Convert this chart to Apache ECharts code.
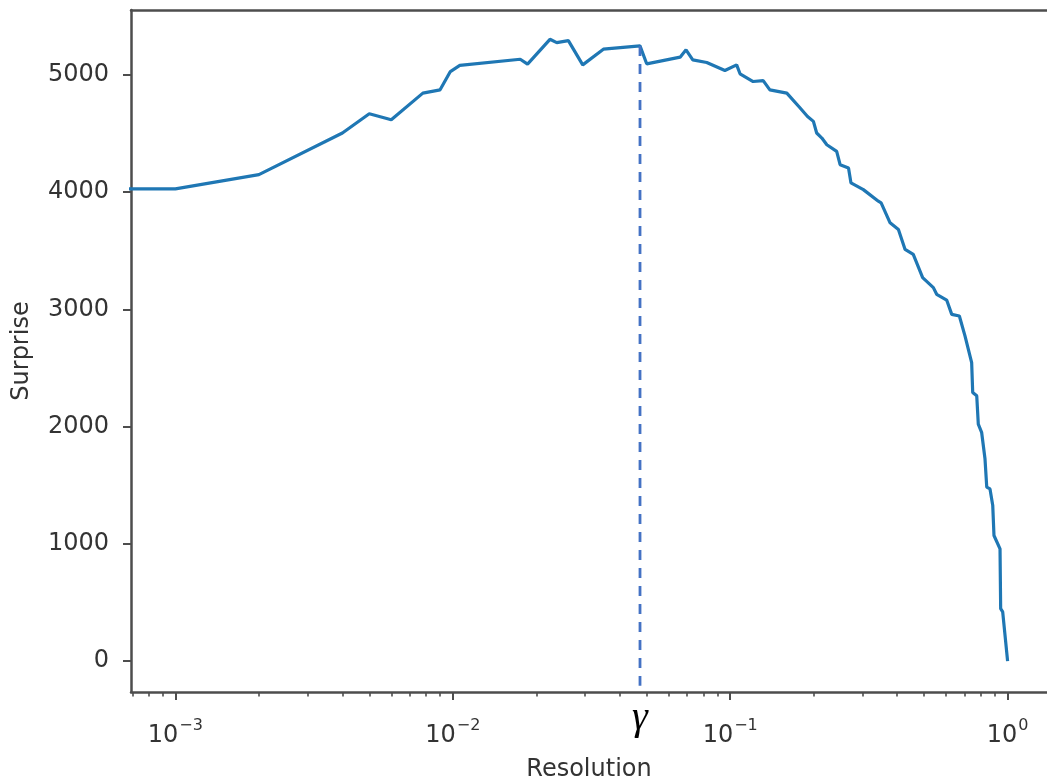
<!DOCTYPE html>
<html>
<head>
<meta charset="utf-8">
<script src="https://cdn.jsdelivr.net/npm/echarts@6/dist/echarts.min.js"></script>
<style>
html,body{margin:0;padding:0;background:#fff;}
#chart{width:1047px;height:780px;}
</style>
</head>
<body>
<div id="chart"></div>
<script>
// ---- data ----
const resolution = [0.0005, 0.001, 0.002, 0.004, 0.005, 0.006, 0.0078, 0.009, 0.0098, 0.0106,
  0.0175, 0.0186, 0.0224, 0.0237, 0.0261, 0.0294, 0.0349, 0.0473, 0.050, 0.066,
  0.0693, 0.0733, 0.0823, 0.0957, 0.1055, 0.1085, 0.121, 0.1315, 0.139, 0.160,
  0.1787, 0.190, 0.1995, 0.205, 0.214, 0.223, 0.242, 0.249, 0.267, 0.2725,
  0.302, 0.342, 0.350, 0.377, 0.404, 0.427, 0.457, 0.494, 0.540, 0.555,
  0.603, 0.629, 0.670, 0.702, 0.742, 0.7485, 0.774, 0.784, 0.806, 0.829,
  0.841, 0.864, 0.884, 0.893, 0.939, 0.944, 0.960, 1.0];
const surprise = [4027, 4027, 4149, 4504, 4668, 4617, 4844, 4872, 5028, 5080,
  5133, 5091, 5303, 5275, 5292, 5085, 5219, 5247, 5094, 5151,
  5213, 5128, 5105, 5037, 5085, 5009, 4943, 4951, 4872, 4844,
  4717, 4645, 4603, 4504, 4461, 4404, 4347, 4234, 4206, 4078,
  4021, 3922, 3908, 3738, 3681, 3511, 3468, 3270, 3185, 3128,
  3079, 2957, 2943, 2773, 2546, 2291, 2262, 2021, 1951, 1723,
  1483, 1468, 1326, 1071, 957, 447, 419, 0];
const yTicks = [0, 1000, 2000, 3000, 4000, 5000];
const xMajorExponents = [-3, -2, -1, 0];
const gammaResolution = 0.0473;
const gammaTop = 5247;
const gammaBottom = -210;
const xLimitsLog = [-3.16, 0.142];
const yLimits = [-264, 5553];

// ---- build ----
const lineData = resolution.map((r, i) => [Math.log10(r), surprise[i]]);
const gammaLog = Math.log10(gammaResolution);
const minorTicks = [];
for (let e = -4; e <= 0; e++) {
  for (let k = 2; k <= 9; k++) {
    const v = Math.log10(k) + e;
    if (v > xLimitsLog[0] && v < xLimitsLog[1]) minorTicks.push(v);
  }
}
const FONT = 'DejaVu Sans';
const TXT = '#333333';
const SPINE = '#4d4d4d';
const spine = {show: true, onZero: false, lineStyle: {color: SPINE, width: 2.5}};
const noLine = {show: false, onZero: false};

const chart = echarts.init(document.getElementById('chart'), null, {renderer: 'canvas'});
chart.setOption({
  animation: false,
  backgroundColor: '#ffffff',
  grid: {left: 131, top: 10, right: 0, bottom: 88, show: false, outerBoundsMode: 'none', containLabel: false},
  xAxis: [
    {
      type: 'value', min: xLimitsLog[0], max: xLimitsLog[1], position: 'bottom',
      axisLine: spine, splitLine: {show: false},
      axisTick: {show: true, customValues: xMajorExponents, length: 8,
                 lineStyle: {color: SPINE, width: 2}},
      axisLabel: {
        customValues: xMajorExponents, margin: 26,
        formatter: v => '{b|10}{s|' + (v < 0 ? '\u2212' + (-v) : String(v)) + '}',
        rich: {
          b: {fontFamily: FONT, fontSize: 24, color: TXT, lineHeight: 30, verticalAlign: 'bottom'},
          s: {fontFamily: FONT, fontSize: 16, color: TXT, lineHeight: 18, verticalAlign: 'top', padding: [0, 0, 0, 1]}
        }
      },
      name: 'Resolution', nameLocation: 'middle', nameGap: 66,
      nameTextStyle: {fontFamily: FONT, fontSize: 24, color: TXT}
    },
    {
      type: 'value', min: xLimitsLog[0], max: xLimitsLog[1], position: 'bottom',
      axisLine: noLine, splitLine: {show: false},
      axisTick: {show: true, customValues: minorTicks, length: 4.6,
                 lineStyle: {color: SPINE, width: 1.6}},
      axisLabel: {show: false}
    },
    {
      type: 'value', min: xLimitsLog[0], max: xLimitsLog[1], position: 'bottom',
      axisLine: noLine, splitLine: {show: false},
      axisTick: {show: false},
      axisLabel: {customValues: [gammaLog], formatter: () => '\u03b3', margin: 6,
                  fontFamily: 'Liberation Serif', fontStyle: 'italic', fontSize: 40, color: '#000'}
    },
    {
      type: 'value', min: xLimitsLog[0], max: xLimitsLog[1], position: 'top',
      axisLine: spine, splitLine: {show: false},
      axisTick: {show: false}, axisLabel: {show: false}
    }
  ],
  yAxis: {
    type: 'value', min: yLimits[0], max: yLimits[1], position: 'left',
    axisLine: spine, splitLine: {show: false},
    axisTick: {show: true, customValues: yTicks, length: 8, lineStyle: {color: SPINE, width: 2}},
    axisLabel: {customValues: yTicks, margin: 22, fontFamily: FONT, fontSize: 24, color: TXT,
                formatter: v => String(v)},
    name: 'Surprise', nameLocation: 'middle', nameGap: 97,
    nameTextStyle: {fontFamily: FONT, fontSize: 24, color: TXT}
  },
  series: [
    {
      type: 'line', xAxisIndex: 0, data: lineData, showSymbol: false, clip: true,
      lineStyle: {color: '#1f77b4', width: 3.2}, silent: true
    },
    {
      type: 'line', xAxisIndex: 0, showSymbol: false, silent: true,
      data: [[gammaLog, gammaTop], [gammaLog, gammaBottom]],
      lineStyle: {color: '#4472c4', width: 2.8, type: [10, 8]}
    }
  ]
});
</script>
</body>
</html>
